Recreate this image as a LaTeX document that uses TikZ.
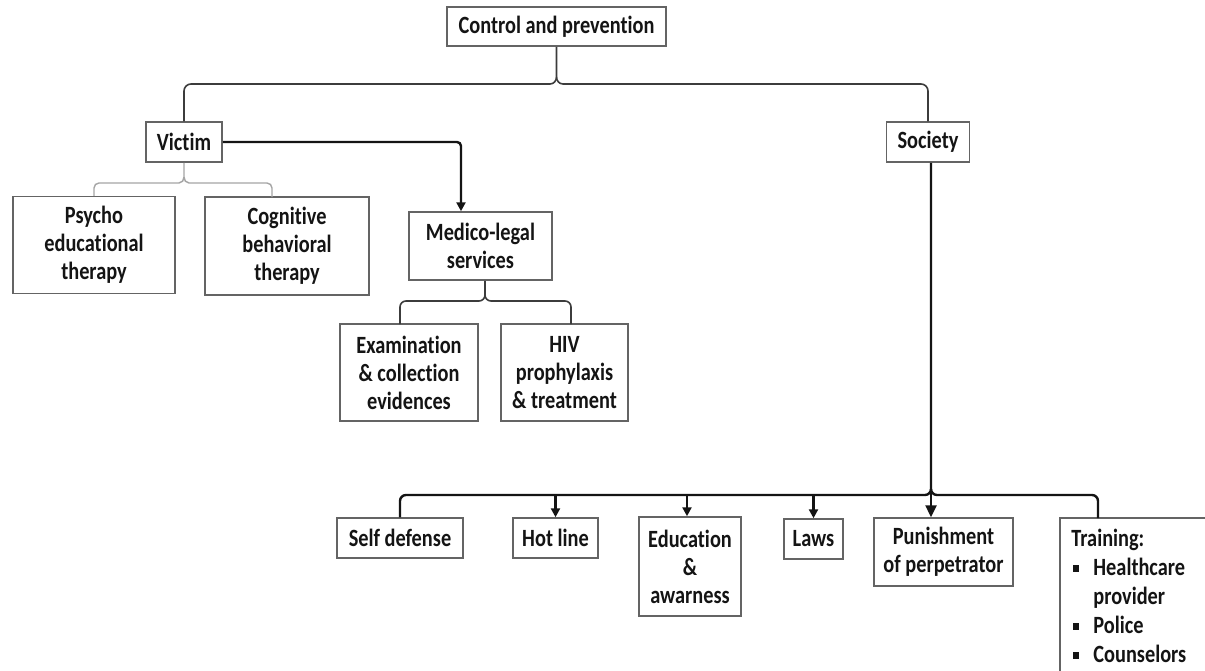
\documentclass[tikz,border=0pt]{standalone}
\usepackage{fontspec}
\setmainfont{Carlito}[FakeStretch=0.82, Ligatures={NoCommon}]
\usetikzlibrary{arrows.meta}
\definecolor{boxgray}{RGB}{100,100,100}
\definecolor{lngray}{RGB}{60,60,60}
\definecolor{lightln}{RGB}{165,165,165}
\definecolor{txt}{RGB}{20,20,20}
\newcommand{\sqb}{\makebox[11pt][l]{\hspace{1pt}\rule[2pt]{3pt}{3.5pt}}}
\begin{document}
\begin{tikzpicture}[x=0.5pt,y=-0.5pt,
  box/.style={draw=boxgray, line width=0.75pt, fill=white, text=txt,
    font=\bfseries\fontsize{12.4}{14}\selectfont, align=center, inner sep=0pt},
  sz/.style 2 args={minimum width=#1*0.5pt, minimum height=#2*0.5pt},
  ln/.style={line width=0.8pt, draw=lngray},
  lightl/.style={line width=0.7pt, draw=lightln},
  thk/.style={line width=1.2pt, draw=txt},
  tip/.style={-{Triangle[length=4.5pt,width=4.5pt]}},
  bigtip/.style={-{Triangle[length=6pt,width=5.5pt]}}]
\clip (0,0) rectangle (1205,670);
\fill[white] (0,0) rectangle (1205,670);

% nodes
\node[box, sz={219}{39}] (ctrl) at (556.5,26.5) {Control and prevention};
\node[box, sz={76}{40}] (victim) at (184,142) {Victim};
\node[box, sz={83}{40}] (society) at (928,142) {Society};
\node[box, sz={162}{97}] (psycho) at (94,245) {Psycho\\educational\\therapy};
\node[box, sz={164}{98}] (cog) at (287,246) {Cognitive\\behavioral\\therapy};
\node[box, sz={143}{68}] (medico) at (480.5,246) {Medico-legal\\services};
\node[box, sz={138}{97}] (exam) at (409,372.5) {Examination\\\& collection\\evidences};
\node[box, sz={127}{97}] (hiv) at (564.5,372.5) {HIV\\prophylaxis\\\& treatment};
\node[box, sz={126}{40}] (self) at (400,538) {Self defense};
\node[box, sz={85}{40}] (hot) at (555.5,538) {Hot line};
\node[box, sz={102}{99}] (edu) at (690,566.5) {Education\\\&\\awarness};
\node[box, sz={59}{40}] (laws) at (813.5,539) {Laws};
\node[box, sz={139}{68}] (pun) at (943.5,552) {Punishment\\of perpetrator};
\draw[draw=boxgray, line width=0.75pt, fill=white] (1060,690) -- (1060,518) -- (1220,518) -- (1220,690);
\node[anchor=north west, inner sep=0pt, text=txt, align=left,
  font=\bfseries\fontsize{12.4}{14.5}\selectfont] (train) at (1071,529)
  {Training:\\\sqb Healthcare\\\hspace*{11pt}provider\\\sqb Police\\\sqb Counselors};

% top brace
\draw[ln] (ctrl.south) -- (556.5,77) to[out=-90,in=0] (550,84) -- (191,84)
  to[out=180,in=90] (184,91) -- (victim.north);
\draw[ln] (556.5,77) to[out=-90,in=180] (563,84) -- (921,84)
  to[out=0,in=90] (928,91) -- (society.north);

% victim gray brace
\draw[lightl] (victim.south) -- (184,177) to[out=-90,in=0] (179,183) -- (99,183)
  to[out=180,in=90] (94,188) -- (psycho.north);
\draw[lightl] (184,177) to[out=-90,in=180] (189,183) -- (267,183)
  to[out=0,in=90] (272,188) -- (272,197);

% victim -> medico
\draw[thk, tip, rounded corners=2pt] (victim.east) -| ([xshift=-9.75pt]medico.north);

% medico brace
\draw[ln] ([xshift=2.25pt]medico.south) -- (485,295) to[out=-90,in=0] (479,301) -- (406,301)
  to[out=180,in=90] (400,307) -- (400,324);
\draw[ln] (485,295) to[out=-90,in=180] (491,301) -- (565,301)
  to[out=0,in=90] (571,307) -- (571,324);

% society brace
\draw[thk] ([xshift=1.5pt]society.south) -- (931,489) to[out=-90,in=0] (925,495) -- (406,495)
  to[out=180,in=90] (400,501) -- (self.north);
\draw[thk] (931,489) to[out=-90,in=180] (937,495) -- (1092,495)
  to[out=0,in=90] (1098,501) -- (1098,518);
\draw[thk, bigtip] (931,489) -- ([xshift=-6.25pt]pun.north);
\draw[thk, tip] (555.5,495) -- (hot.north);
\draw[thk, tip] (687,495) -- ([xshift=-1.5pt]edu.north);
\draw[thk, tip] (813.5,495) -- (laws.north);
\end{tikzpicture}
\end{document}
